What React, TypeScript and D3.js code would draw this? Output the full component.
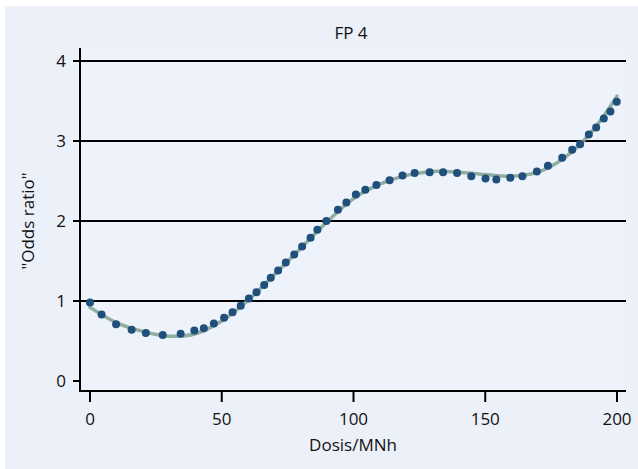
import React from "react";
import * as d3 from "d3";

const title = "FP 4";
const xLabel = "Dosis/MNh";
const yLabel = '"Odds ratio"';
const xTicks = [0, 50, 100, 150, 200];
const yTicks = [0, 1, 2, 3, 4];
const gridValues = [1, 2, 3, 4];

const doseX = [0, 4.4, 9.9, 15.8, 21.2, 27.6, 34.4, 39.6, 43.2, 47, 50.9, 54.1, 57.2, 60.3, 63.2, 66.1, 68.6, 71.4, 74.3, 77.5, 80.5, 83.7, 86.3, 89.7, 94.1, 97.3, 100.9, 104.5, 108.7, 113.7, 118.6, 123.2, 128.9, 134, 139.3, 144.7, 150.1, 154.2, 159.5, 164.1, 169.6, 173.8, 179.2, 183, 186, 189.3, 192.1, 195, 197.5, 199.9];
const oddsY = [0.98, 0.83, 0.71, 0.64, 0.6, 0.575, 0.59, 0.63, 0.66, 0.72, 0.79, 0.86, 0.94, 1.03, 1.11, 1.2, 1.29, 1.38, 1.48, 1.58, 1.68, 1.79, 1.89, 2.0, 2.14, 2.23, 2.33, 2.39, 2.45, 2.51, 2.57, 2.6, 2.61, 2.61, 2.6, 2.56, 2.53, 2.52, 2.54, 2.56, 2.62, 2.69, 2.79, 2.89, 2.96, 3.08, 3.17, 3.28, 3.37, 3.49];

const fitX = [0, 10, 20, 30, 40, 50, 60, 70, 80, 90, 100, 110, 120, 130, 140, 150, 160, 170, 180, 190, 200];
const fitY = [0.92, 0.73, 0.62, 0.56, 0.59, 0.75, 1.01, 1.33, 1.66, 1.99, 2.28, 2.46, 2.57, 2.62, 2.61, 2.58, 2.56, 2.61, 2.79, 3.1, 3.56];

const W = 638;
const H = 469;
const FONT = "'Open Sans', 'Noto Sans', sans-serif";

export default function App() {
  const x = d3.scaleLinear().domain([0, 200]).range([90, 617]);
  const y = d3.scaleLinear().domain([0, 4]).range([381, 61]);
  const axisX0 = 79;
  const axisX1 = 626;
  const axisY = 391;
  const axisTop = 48;

  const fitPts: [number, number][] = fitX.map((v, i) => [x(v), y(fitY[i])]);
  const line = d3.line().curve(d3.curveCatmullRom.alpha(0.5))(fitPts) || "";

  return (
    <svg width={W} height={H} style={{ position: "absolute", left: 0, top: 0, display: "block" }} fontFamily={FONT}>
      <rect x={0} y={0} width={W} height={H} fill="#ffffff" />
      <rect x={5} y={6} width={W - 5} height={H - 6} fill="#ebf0f9" />
      <rect x={80} y={48} width={546} height={343} fill="#edf2fb" />
      <text x={351} y={39} textAnchor="middle" fontSize={17} fill="#111">{title}</text>
      {gridValues.map((g) => (
        <line key={"g" + g} x1={axisX0} x2={axisX1} y1={y(g)} y2={y(g)} stroke="#000" strokeWidth={2} />
      ))}
      <line x1={80} x2={80} y1={axisTop} y2={axisY + 1} stroke="#000" strokeWidth={2} />
      <line x1={axisX0} x2={axisX1} y1={axisY} y2={axisY} stroke="#000" strokeWidth={2} />
      {yTicks.map((t) => (
        <g key={"y" + t}>
          <line x1={73} x2={80} y1={y(t)} y2={y(t)} stroke="#000" strokeWidth={2} />
          <text x={66} y={y(t) + 6} textAnchor="end" fontSize={17} fill="#111">{t}</text>
        </g>
      ))}
      {xTicks.map((t) => (
        <g key={"x" + t}>
          <line x1={x(t)} x2={x(t)} y1={axisY} y2={axisY + 11} stroke="#000" strokeWidth={2} />
          <text x={x(t)} y={425} textAnchor="middle" fontSize={17} fill="#111">{t}</text>
        </g>
      ))}
      <text x={353} y={451} textAnchor="middle" fontSize={17} fill="#111">{xLabel}</text>
      <text transform={`translate(34,221) rotate(-90)`} textAnchor="middle" fontSize={17} fill="#111">{yLabel}</text>
      <path d={line} fill="none" stroke="#86a596" strokeWidth={3.5} strokeLinecap="round" opacity={0.9} />
      {doseX.map((v, i) => (
        <circle key={"d" + i} cx={x(v)} cy={y(oddsY[i])} r={4} fill="#1f4f7b" />
      ))}
    </svg>
  );
}
